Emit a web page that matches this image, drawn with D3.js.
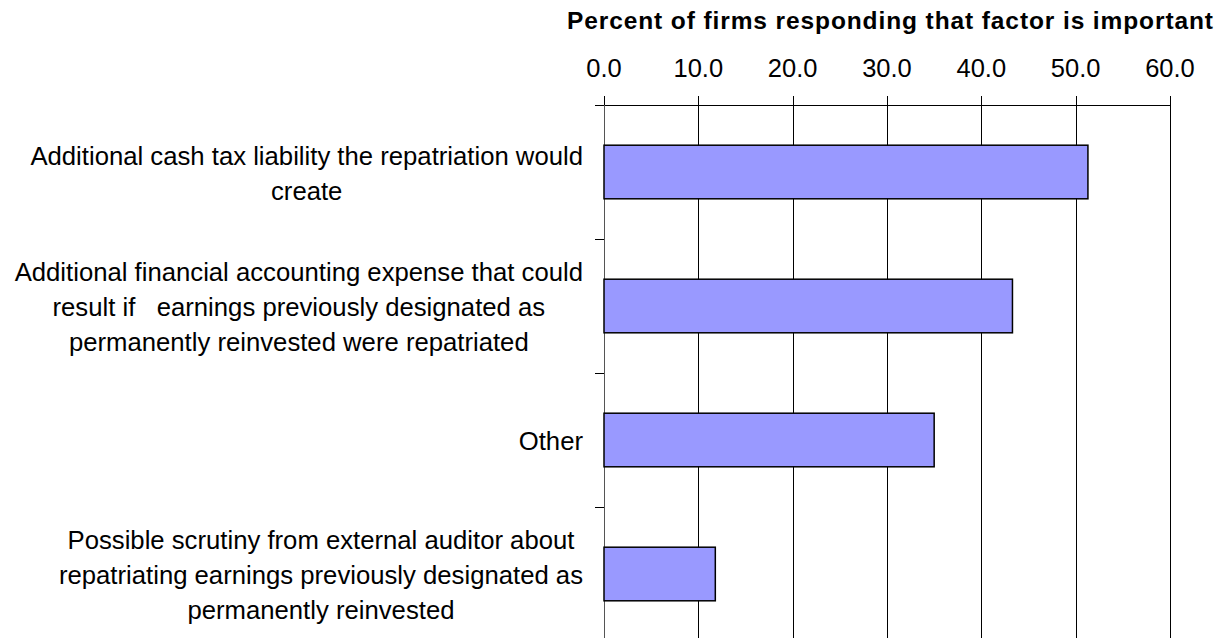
<!DOCTYPE html>
<html>
<head>
<meta charset="utf-8">
<script src="https://cdn.jsdelivr.net/npm/d3@7"></script>
<style>
  body { margin: 0; background: #fff; }
  text { font-family: "Liberation Sans", Arial, sans-serif; white-space: pre; }
</style>
</head>
<body>
<svg id="chart" width="1225" height="638"></svg>
<script>
// chart data
var categories = [
    "Additional cash tax liability the repatriation would\ncreate",
    "Additional financial accounting expense that could\nresult if   earnings previously designated as\npermanently reinvested were repatriated",
    "Other",
    "Possible scrutiny from external auditor about\nrepatriating earnings previously designated as\npermanently reinvested"
];
var values = [51.3, 43.3, 35.0, 11.8];
var tickValues = [0, 10, 20, 30, 40, 50, 60];
var axisTitle = "Percent of firms responding that factor is important";

var svg = d3.select("#chart");
var width = 1225, height = 638;

var x = d3.scaleLinear().domain([0, 60]).range([604, 1170]);
var y = d3.scaleBand().domain(categories).range([105, 641])
    .paddingInner(0.6).paddingOuter(0.3);

// vertical gridlines
svg.append("g").selectAll("line")
    .data(tickValues)
    .enter().append("line")
    .attr("x1", function(d){return Math.round(x(d)) + 0.5})
    .attr("x2", function(d){return Math.round(x(d)) + 0.5})
    .attr("y1", 96)
    .attr("y2", height)
    .attr("stroke", "#000")
    .attr("stroke-width", 1);

// top axis line
svg.append("line")
    .attr("x1", 595).attr("x2", x(60))
    .attr("y1", 105.5).attr("y2", 105.5)
    .attr("stroke", "#000");

// left category axis
svg.append("line")
    .attr("x1", 604.5).attr("x2", 604.5)
    .attr("y1", 105).attr("y2", height)
    .attr("stroke", "#555");

// category boundary ticks
var gap = y.step() - y.bandwidth();
var bounds = categories.map(function(c){return y(c) - gap / 2});
svg.append("g").selectAll("line")
    .data(bounds.slice(1))
    .enter().append("line")
    .attr("x1", 595).attr("x2", 604)
    .attr("y1", function(d){return Math.round(d) + 0.5})
    .attr("y2", function(d){return Math.round(d) + 0.5})
    .attr("stroke", "#000");

// tick labels
svg.append("g").selectAll("text")
    .data(tickValues)
    .enter().append("text")
    .attr("x", function(d){return x(d)})
    .attr("y", 77)
    .attr("text-anchor", "middle")
    .attr("font-size", 25.5)
    .attr("fill", "#000")
    .text(d3.format(".1f"));

// axis title
svg.append("text")
    .attr("x", 567)
    .attr("y", 29)
    .attr("font-size", 24.5)
    .attr("font-weight", "bold")
    .attr("textLength", 646)
    .attr("lengthAdjust", "spacing")
    .text(axisTitle);

// bars
svg.append("g").selectAll("rect")
    .data(values)
    .enter().append("rect")
    .attr("x", x(0))
    .attr("y", function(d, i){return y(categories[i])})
    .attr("width", function(d){return x(d) - x(0)})
    .attr("height", y.bandwidth())
    .attr("fill", "#9999FF")
    .attr("stroke", "#000")
    .attr("stroke-width", 1.5);

// category labels, lines centred within a right-aligned block
var lineH = 35;
var labels = svg.append("g");
categories.forEach(function(c){
    var lines = c.split("\n");
    var g = labels.append("g");
    var cy = y(c) + y.bandwidth() / 2;
    var t = g.selectAll("text")
        .data(lines)
        .enter().append("text")
        .attr("font-size", 25.7)
        .attr("text-anchor", "middle")
        .attr("y", function(d, i){return cy + (i - (lines.length - 1) / 2) * lineH + 10})
        .text(function(d){return d});
    var maxW = 0;
    t.each(function(){maxW = Math.max(maxW, this.getComputedTextLength())});
    t.attr("x", 583 - maxW / 2);
});
</script>
</body>
</html>
